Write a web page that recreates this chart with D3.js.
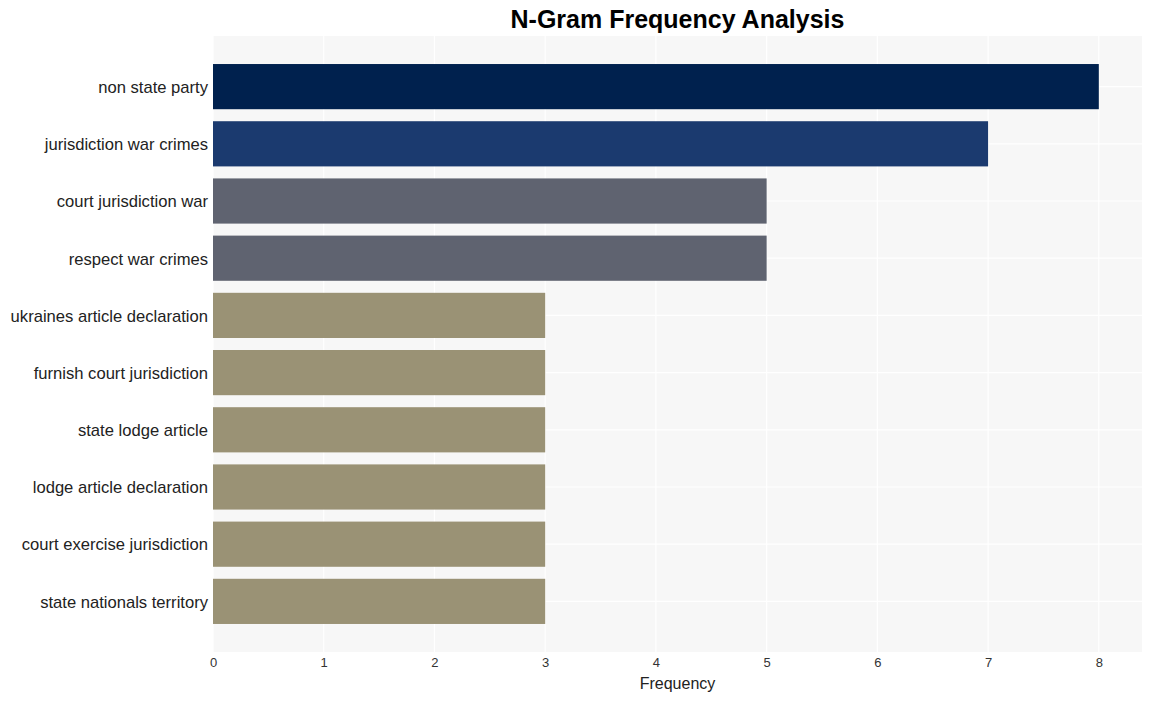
<!DOCTYPE html>
<html><head><meta charset="utf-8">
<script src="https://cdn.jsdelivr.net/npm/d3@7"></script>
<style>body{margin:0;background:#fff}svg{display:block}</style>
</head><body>
<svg id="chart" width="1152" height="701"></svg>
<script>
const categories = ["non state party","jurisdiction war crimes","court jurisdiction war","respect war crimes","ukraines article declaration","furnish court jurisdiction","state lodge article","lodge article declaration","court exercise jurisdiction","state nationals territory"];
const values = [8,7,5,5,3,3,3,3,3,3];
const barColors = ["#00214e","#1b3a6f","#5f6370","#5f6370","#9a9275","#9a9275","#9a9275","#9a9275","#9a9275","#9a9275"];
const xTicks = [0,1,2,3,4,5,6,7,8];

const svg = d3.select("#chart");
const L = 213, R = 1142, T = 36, B = 652;
const FONT = "Liberation Sans, Arial, sans-serif";
const x = d3.scaleLinear().domain([0, 8.39]).range([L, R]);
const y = d3.scaleBand().domain(categories).range([T, B]).paddingInner(0.21).paddingOuter(0.49);

svg.append("rect").attr("x", L).attr("y", T).attr("width", R - L).attr("height", B - T).attr("fill", "#f7f7f7");
svg.append("g").selectAll("line").data(xTicks).join("line")
  .attr("x1", d => x(d)).attr("x2", d => x(d)).attr("y1", T).attr("y2", B)
  .attr("stroke", "#fff").attr("stroke-width", 1.2);
svg.append("g").selectAll("line").data(categories).join("line")
  .attr("x1", L).attr("x2", R).attr("y1", d => y(d) + y.bandwidth()/2).attr("y2", d => y(d) + y.bandwidth()/2)
  .attr("stroke", "#fff").attr("stroke-width", 1.2);

svg.append("g").selectAll("rect").data(categories).join("rect")
  .attr("x", x(0)).attr("y", d => y(d)).attr("height", y.bandwidth())
  .attr("width", (d, i) => x(values[i]) - x(0)).attr("fill", (d, i) => barColors[i]);

const xAxis = svg.append("g").attr("transform", `translate(0,${B})`)
  .call(d3.axisBottom(x).tickValues(xTicks).tickSize(0).tickPadding(6).tickFormat(d3.format("d")));
xAxis.select(".domain").remove();
xAxis.selectAll("text").attr("font-family", FONT).attr("font-size", 13).attr("fill", "#333");

const yAxis = svg.append("g").attr("transform", `translate(${L},0)`)
  .call(d3.axisLeft(y).tickSize(0).tickPadding(5));
yAxis.select(".domain").remove();
yAxis.selectAll("text").attr("font-family", FONT).attr("font-size", 16.6).attr("fill", "#222").attr("dy", "0.38em");

svg.append("text").attr("x", (L + R)/2).attr("y", 689).attr("text-anchor", "middle")
  .attr("font-family", FONT).attr("font-size", 16).attr("fill", "#222").text("Frequency");
svg.append("text").attr("x", (L + R)/2).attr("y", 28).attr("text-anchor", "middle")
  .attr("font-family", FONT).attr("font-size", 25).attr("font-weight", "bold").attr("fill", "#000").text("N-Gram Frequency Analysis");
</script>
</body></html>
